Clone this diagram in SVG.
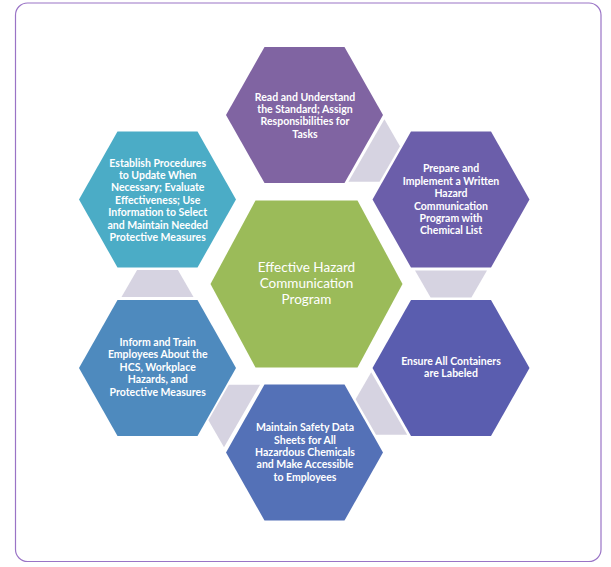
<svg xmlns="http://www.w3.org/2000/svg" xmlns:xlink="http://www.w3.org/1999/xlink" width="611" height="567" viewBox="0 0 611 567">
<defs>
<style>
.t{font-family:Lato,"Open Sans","Liberation Sans",sans-serif;font-weight:bold;font-size:10.5px;fill:#ffffff;text-anchor:middle}
.c{font-family:Lato,"Open Sans","Liberation Sans",sans-serif;font-size:13.5px;fill:#ffffff;text-anchor:middle}
.g{fill:#d6d3e1}
</style>
<polygon id="hexS" points="-78.5,0 -40,-68 40,-68 78.5,0 40,68 -40,68"/>
<polygon id="trap" points="-36,0 36,0 20.4,27 -20.4,27"/>
</defs>
<rect x="15.5" y="3" width="585.5" height="558.5" rx="12" fill="#ffffff" stroke="#9a74c6" stroke-width="1.2"/>
<g id="connectors">
<use xlink:href="#trap" class="g" transform="translate(366.4,150.5) rotate(-60)"/>
<use xlink:href="#trap" class="g" transform="translate(451,270.5)"/>
<use xlink:href="#trap" class="g" transform="translate(389.2,403.5) rotate(60)"/>
<use xlink:href="#trap" class="g" transform="translate(242,416) rotate(120)"/>
<use xlink:href="#trap" class="g" transform="translate(157.5,297) rotate(180)"/>
</g>
<g id="center">
<polygon points="210.5,284 255.5,200.5 357.5,200.5 402.5,284 357.5,367.5 255.5,367.5" fill="#9bbb59"/>
<text class="c" x="306.5" y="272.2">Effective Hazard<tspan x="306.5" dy="16">Communication</tspan><tspan x="306.5" dy="16">Program</tspan></text>
</g>
<g id="read">
<use xlink:href="#hexS" transform="translate(304.5,115)" fill="#8064a2"/>
<text class="t" x="305" y="100.5">Read and Understand<tspan x="305" dy="12.4">the Standard; Assign</tspan><tspan x="305" dy="12.4">Responsibilities for</tspan><tspan x="305" dy="12.4">Tasks</tspan></text>
</g>
<g id="prepare">
<use xlink:href="#hexS" transform="translate(451,199.5)" fill="#6b5eaa"/>
<text class="t" x="451" y="172.4">Prepare and<tspan x="451" dy="12.4">Implement a Written</tspan><tspan x="451" dy="12.4">Hazard</tspan><tspan x="451" dy="12.4">Communication</tspan><tspan x="451" dy="12.4">Program with</tspan><tspan x="451" dy="12.4">Chemical List</tspan></text>
</g>
<g id="ensure">
<use xlink:href="#hexS" transform="translate(451,368)" fill="#5a5daf"/>
<text class="t" x="451" y="364.7">Ensure All Containers<tspan x="451" dy="12.4">are Labeled</tspan></text>
</g>
<g id="maintain">
<use xlink:href="#hexS" transform="translate(304.5,452.5)" fill="#5471b7"/>
<text class="t" x="305" y="431.1">Maintain Safety Data<tspan x="305" dy="12.4">Sheets for All</tspan><tspan x="305" dy="12.4">Hazardous Chemicals</tspan><tspan x="305" dy="12.4">and Make Accessible</tspan><tspan x="305" dy="12.4">to Employees</tspan></text>
</g>
<g id="inform">
<use xlink:href="#hexS" transform="translate(157.5,368)" fill="#4e8abe"/>
<text class="t" x="157.7" y="345.9">Inform and Train<tspan x="157.7" dy="12.4">Employees About the</tspan><tspan x="157.7" dy="12.4">HCS, Workplace</tspan><tspan x="157.7" dy="12.4">Hazards, and</tspan><tspan x="157.7" dy="12.4">Protective Measures</tspan></text>
</g>
<g id="establish">
<use xlink:href="#hexS" transform="translate(157.5,199.5)" fill="#4bacc6"/>
<text class="t" x="157.7" y="166.5">Establish Procedures<tspan x="157.7" dy="12.4">to Update When</tspan><tspan x="157.7" dy="12.4">Necessary; Evaluate</tspan><tspan x="157.7" dy="12.4">Effectiveness; Use</tspan><tspan x="157.7" dy="12.4">Information to Select</tspan><tspan x="157.7" dy="12.4">and Maintain Needed</tspan><tspan x="157.7" dy="12.4">Protective Measures</tspan></text>
</g>
</svg>
